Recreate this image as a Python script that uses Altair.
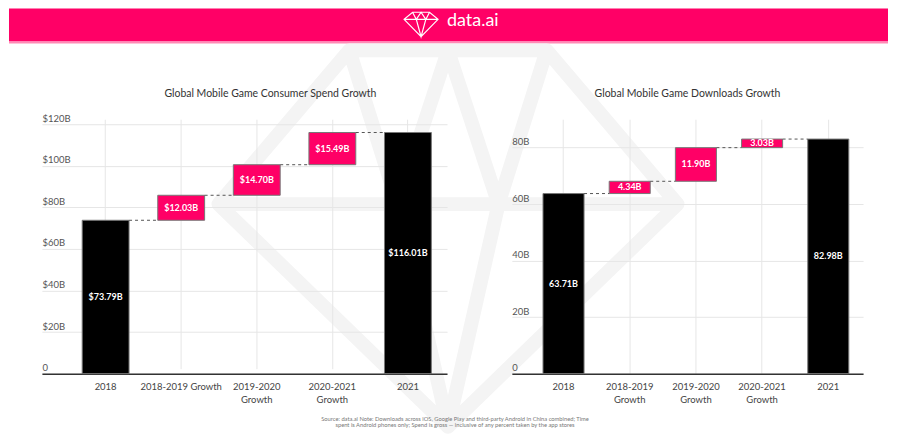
import altair as alt
import pandas as pd

PINK = "#FF0066"
FONT = "Lato"

categories = ["2018", "2018-2019 Growth", "2019-2020 Growth", "2020-2021 Growth", "2021"]

spend_start = 73.79
spend_growth = [12.03, 14.70, 15.49]
spend_end = 116.01
spend_ticks = [0, 20, 40, 60, 80, 100, 120]

dl_start = 63.71
dl_growth = [4.34, 11.90, 3.03]
dl_end = 82.98
dl_ticks = [0, 20, 40, 60, 80]

left_single_line = ["2018-2019 Growth"]

footnote = [
    "Source: data.ai Note: Downloads across iOS, Google Play and third-party Android in China combined; Time",
    "spent is Android phones only; Spend is gross \u2014 inclusive of any percent taken by the app stores",
]

GEM = ("M-0.5,-0.72 L0.5,-0.72 L1,-0.3 L0,0.72 L-1,-0.3 Z "
       "M-1,-0.3 L1,-0.3 "
       "M-0.5,-0.72 L-0.28,-0.3 L0,0.72 L0.28,-0.3 L0.5,-0.72 "
       "M-0.28,-0.3 L0,-0.72 L0.28,-0.3")

WATERMARK = ("M-0.43,-0.82 L0.43,-0.82 L1,-0.15 L0,0.82 L-1,-0.15 Z "
             "M-1,-0.15 L1,-0.15 "
             "M-0.43,-0.82 L-0.22,-0.15 L0,0.82 L0.22,-0.15 L0.43,-0.82 "
             "M-0.22,-0.15 L0,-0.82 L0.22,-0.15")


def build_frames(start, growth, end, prefix):
    rows = [dict(cat=categories[0], y0=0.0, y1=start, kind="total", label=f"{prefix}{start:.2f}B")]
    conns = [dict(src=categories[0], dst=categories[1], level=start)]
    level = start
    for i, g in enumerate(growth):
        rows.append(dict(cat=categories[i + 1], y0=level, y1=level + g, kind="growth",
                         label=f"{prefix}{g:.2f}B"))
        level = round(level + g, 2)
        conns.append(dict(src=categories[i + 1], dst=categories[i + 2], level=level))
    rows.append(dict(cat=categories[-1], y0=0.0, y1=end, kind="total", label=f"{prefix}{end:.2f}B"))
    df = pd.DataFrame(rows)
    df["mid"] = (df["y0"] + df["y1"]) / 2
    return df, pd.DataFrame(conns)


def panel(title, start, growth, end, prefix, ticks, ymax, width, height, y_range,
          pad_outer, align_, title_dx, title_offset, wrap_expr):
    df, cdf = build_frames(start, growth, end, prefix)
    xs = alt.Scale(domain=categories, paddingInner=0.38, paddingOuter=pad_outer, align=align_)
    ys = alt.Scale(domain=[0, ymax], nice=False, range=y_range)
    ylabel = ("datum.value == 0 ? '0' : '" + prefix + "' + datum.value + 'B'")
    xaxis = alt.Axis(title=None, labelAngle=0, labelExpr=wrap_expr, labelFont=FONT,
                     labelFontSize=9.5, labelColor="#444", labelPadding=8, labelLineHeight=13,
                     ticks=False, tickSize=0, domainColor="#333", domainWidth=1.5, grid=True,
                     gridColor="#e6e6e6", bandPosition=0.5)
    yaxis = alt.Axis(title=None, values=ticks, labelExpr=ylabel, labelAlign="left",
                     labelBaseline="bottom", labelPadding=0, tickSize=0, ticks=False,
                     domain=False, grid=True, gridColor="#e6e6e6", labelFont=FONT,
                     labelFontSize=9.5, labelColor="#555", labelOffset=-1)
    bars = alt.Chart(df).mark_bar(stroke="#777", strokeWidth=1).encode(
        x=alt.X("cat:N", scale=xs, sort=categories, axis=xaxis),
        y=alt.Y("y0:Q", scale=ys, axis=yaxis),
        y2="y1:Q",
        color=alt.Color("kind:N", scale=alt.Scale(domain=["total", "growth"],
                                                  range=["#000000", PINK]), legend=None),
    )
    conns = alt.Chart(cdf).mark_rule(color="#555", strokeWidth=1, strokeDash=[3, 3]).encode(
        x=alt.X("src:N", sort=categories, bandPosition=1),
        x2=alt.X2("dst:N", bandPosition=0),
        y="level:Q",
    )
    labels = alt.Chart(df).mark_text(color="white", font=FONT, fontSize=9, fontWeight="bold",
                                     baseline="middle").encode(
        x=alt.X("cat:N", sort=categories), y="mid:Q", text="label:N")
    return alt.layer(bars, conns, labels).properties(
        width=width, height=height,
        title=alt.TitleParams(title, font=FONT, fontSize=10.5, fontWeight="normal", color="#333",
                              anchor="middle", dx=title_dx, offset=title_offset, frame="group"))


left_wrap = ("indexof(" + str(left_single_line).replace('"', "'") +
             ", datum.value) >= 0 ? datum.value : split(datum.value, ' ')")
right_wrap = "split(datum.value, ' ')"

left = panel("Global Mobile Game Consumer Spend Growth", spend_start, spend_growth, spend_end, "$",
             spend_ticks, 120, 406, 255, [255, 5], 0.37, 0.72, 26, 14, left_wrap)
right = panel("Global Mobile Game Downloads Growth", dl_start, dl_growth, dl_end, "",
              dl_ticks, 90, 352, 255, [255, 0], 0.343, 0.686, 0, 20, right_wrap)

hdr = pd.DataFrame({"brand": ["data.ai"]})


def spacer(w):
    return alt.Chart(hdr).mark_rect(opacity=0).encode(
        x=alt.value(0), x2=alt.value(w), y=alt.value(0), y2=alt.value(1)
    ).properties(width=w, height=1)


band = alt.Chart(hdr).mark_rect(color=PINK).encode(
    x=alt.value(0), x2=alt.value(881), y=alt.value(0), y2=alt.value(33))
edge = alt.Chart(hdr).mark_rule(color="#ff8ab5", strokeWidth=2).encode(
    x=alt.value(0), x2=alt.value(881), y=alt.value(34))
logo = alt.Chart(hdr).mark_point(shape=GEM, size=1156, filled=False, stroke="white",
                                 strokeWidth=1.2, opacity=1).encode(
    x=alt.value(413), y=alt.value(16))
word = alt.Chart(hdr).mark_text(color="white", font=FONT, fontSize=18, align="left",
                                baseline="middle").encode(
    x=alt.value(439), y=alt.value(13), text="brand:N")
header = alt.layer(band, edge, logo, word).properties(width=881, height=35)

# first (leftmost) cell: blank margin that also carries the faint watermark and the footnote,
# drawn before the two panels so it sits behind them
edge_box = alt.Chart(hdr).mark_rect(opacity=0).encode(
    x=alt.value(0), x2=alt.value(33), y=alt.value(0), y2=alt.value(1))
wm = alt.Chart(hdr).mark_point(shape=WATERMARK, size=460 ** 2, filled=False, stroke="#f4f4f4",
                               strokeWidth=14, strokeJoin="round", opacity=1).encode(
    x=alt.value(440), y=alt.value(119.6))
foot = alt.Chart(hdr).mark_text(font=FONT, fontSize=5.8, color="#777", lineHeight=6.5,
                                baseline="top", align="center").encode(
    x=alt.value(447), y=alt.value(297), text=alt.value(footnote))
bg = alt.layer(edge_box, wm, foot).properties(width=33, height=1)

middle = alt.hconcat(bg, left, spacer(65), right, spacing=0, bounds="flush")

chart = alt.vconcat(header, middle, spacing=0).properties(
    padding={"left": 0, "top": 0, "right": 0, "bottom": 0}, background="white"
).configure_view(strokeWidth=0)

chart.save("out.html", embed_options={"renderer": "svg", "actions": False})
